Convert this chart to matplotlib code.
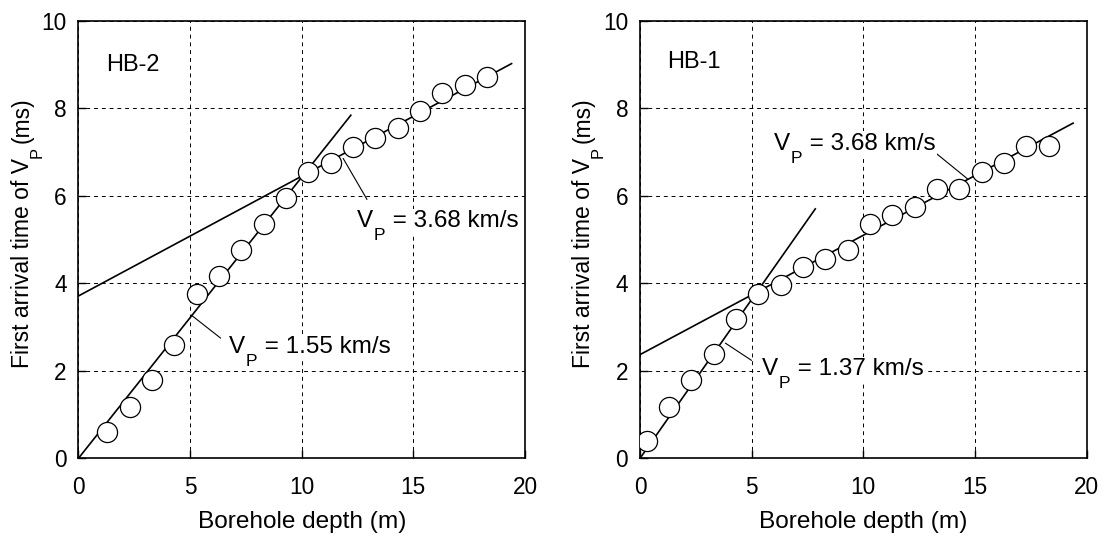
import matplotlib
matplotlib.use("Agg")
import matplotlib.pyplot as plt

plt.rcParams['font.family'] = ['Liberation Sans', 'DejaVu Sans']

# HB-2 (left panel)
hb2_depth = [1.3, 2.3, 3.3, 4.3, 5.3, 6.3, 7.3, 8.3, 9.3, 10.3, 11.3, 12.3,
             13.3, 14.3, 15.3, 16.3, 17.3, 18.3]
hb2_time = [0.60, 1.18, 1.78, 2.59, 3.76, 4.17, 4.75, 5.35, 5.94, 6.55, 6.75,
            7.12, 7.33, 7.55, 7.94, 8.34, 8.53, 8.71]
hb2_fit1_x = [0.0, 12.2]
hb2_fit1_y = [0.0, 7.84]
hb2_fit2_x = [0.0, 19.4]
hb2_fit2_y = [3.71, 9.02]

# HB-1 (right panel)
hb1_depth = [0.3, 1.3, 2.3, 3.3, 4.3, 5.3, 6.3, 7.3, 8.3, 9.3, 10.3, 11.3,
             12.3, 13.3, 14.3, 15.3, 16.3, 17.3, 18.3]
hb1_time = [0.39, 1.18, 1.79, 2.38, 3.18, 3.76, 3.96, 4.37, 4.55, 4.75, 5.35,
            5.55, 5.75, 6.16, 6.16, 6.55, 6.75, 7.14, 7.14]
hb1_fit1_x = [0.0, 7.85]
hb1_fit1_y = [0.0, 5.70]
hb1_fit2_x = [0.0, 19.4]
hb1_fit2_y = [2.37, 7.66]

x_ticks = [0, 5, 10, 15, 20]
y_ticks = [0, 2, 4, 6, 8, 10]

# velocity labels: (text after V_P, baseline position, leader x, leader y)
hb2_notes = [
    (" = 3.68 km/s", (12.46, 5.28), [11.86, 12.92], [6.85, 5.92]),
    (" = 1.55 km/s", (6.75, 2.40), [5.06, 6.36], [3.27, 2.75]),
]
hb1_notes = [
    (" = 3.68 km/s", (6.0, 7.05), [13.14, 14.66], [7.02, 6.39]),
    (" = 1.37 km/s", (5.45, 1.90), [3.83, 4.99], [2.63, 2.24]),
]

TICK_FS = 16.3
XLAB_FS = 17.6
YLAB_FS = 16.5
NOTE_FS = 17.5
NAME_FS = 17
SUB_RATIO = 0.72


def white(pad):
    return dict(facecolor='white', edgecolor='none', pad=pad)


def vp_text(ax, x, y, rest):
    drop = NOTE_FS * 0.53
    t1 = ax.text(x, y, 'V', fontsize=NOTE_FS, ha='left', va='baseline', zorder=5,
                 bbox=white(1))
    # blank spacer keeps the white backing continuous above the subscript
    ax.annotate('  ', xy=(1, y), xycoords=(t1, 'data'), fontsize=NOTE_FS,
                ha='left', va='baseline', zorder=5, bbox=white(0))
    t2 = ax.annotate('P', xy=(1, y), xycoords=(t1, 'data'), xytext=(0.6, -drop),
                     textcoords='offset points', fontsize=NOTE_FS * SUB_RATIO, ha='left',
                     va='baseline', zorder=6, bbox=white(0.4))
    ax.annotate(rest, xy=(1, y), xycoords=(t2, 'data'), xytext=(0.5, 0),
                textcoords='offset points', fontsize=NOTE_FS, ha='left',
                va='baseline', zorder=5, bbox=white(1))


def vp_ylabel(ax, x_px, y_px):
    drop = YLAB_FS * 0.55
    kw = dict(rotation=90, rotation_mode='anchor', ha='left', va='baseline')
    t1 = ax.annotate('First arrival time of V', xy=(x_px, y_px),
                     xycoords='figure pixels', fontsize=YLAB_FS, **kw)
    t2 = ax.annotate('P', xy=(x_px, 1), xycoords=('figure pixels', t1),
                     xytext=(drop, 0.3), textcoords='offset points',
                     fontsize=YLAB_FS * SUB_RATIO, **kw)
    ax.annotate('(ms)', xy=(x_px, 1), xycoords=('figure pixels', t2),
                xytext=(0, 2.5), textcoords='offset points', fontsize=YLAB_FS, **kw)


def draw_panel(ax, name, name_pos, depth, time, fits, notes, ylab_x):
    ax.set_xlim(0, 20)
    ax.set_ylim(0, 10)
    ax.set_xticks(x_ticks)
    ax.set_yticks(y_ticks)
    ax.grid(True, color='black', linestyle=(0, (4, 4)), linewidth=0.7)
    ax.set_axisbelow(True)
    for fx, fy in fits:
        ax.plot(fx, fy, color='black', linewidth=1.2, zorder=3)
    ax.plot(depth, time, 'o', markersize=14.5, markerfacecolor='white',
            markeredgecolor='black', markeredgewidth=0.9, zorder=4)
    for rest, (tx, ty), lx, ly in notes:
        ax.plot(lx, ly, color='black', linewidth=0.8, zorder=3)
        vp_text(ax, tx, ty, rest)
    ax.text(name_pos[0], name_pos[1], name, fontsize=NAME_FS, ha='left', va='baseline')
    ax.set_xlabel('Borehole depth (m)', fontsize=XLAB_FS, labelpad=8.7)
    vp_ylabel(ax, ylab_x, 170)
    ax.tick_params(axis='x', direction='in', length=6, width=1, labelsize=TICK_FS, pad=13)
    ax.tick_params(axis='y', direction='in', length=6, width=1, labelsize=TICK_FS, pad=8.5)
    for sp in ax.spines.values():
        sp.set_linewidth(1.2)


fig = plt.figure(figsize=(11.05, 5.38), dpi=100)
ax1 = fig.add_axes([0.0710, 0.1481, 0.4041, 0.8134])
ax2 = fig.add_axes([0.5792, 0.1481, 0.4041, 0.8134])

draw_panel(ax1, 'HB-2', (1.26, 8.85), hb2_depth, hb2_time,
           [(hb2_fit1_x, hb2_fit1_y), (hb2_fit2_x, hb2_fit2_y)], hb2_notes, 29)
draw_panel(ax2, 'HB-1', (1.22, 8.91), hb1_depth, hb1_time,
           [(hb1_fit1_x, hb1_fit1_y), (hb1_fit2_x, hb1_fit2_y)], hb1_notes, 590)

fig.savefig('out.png', dpi=100)
